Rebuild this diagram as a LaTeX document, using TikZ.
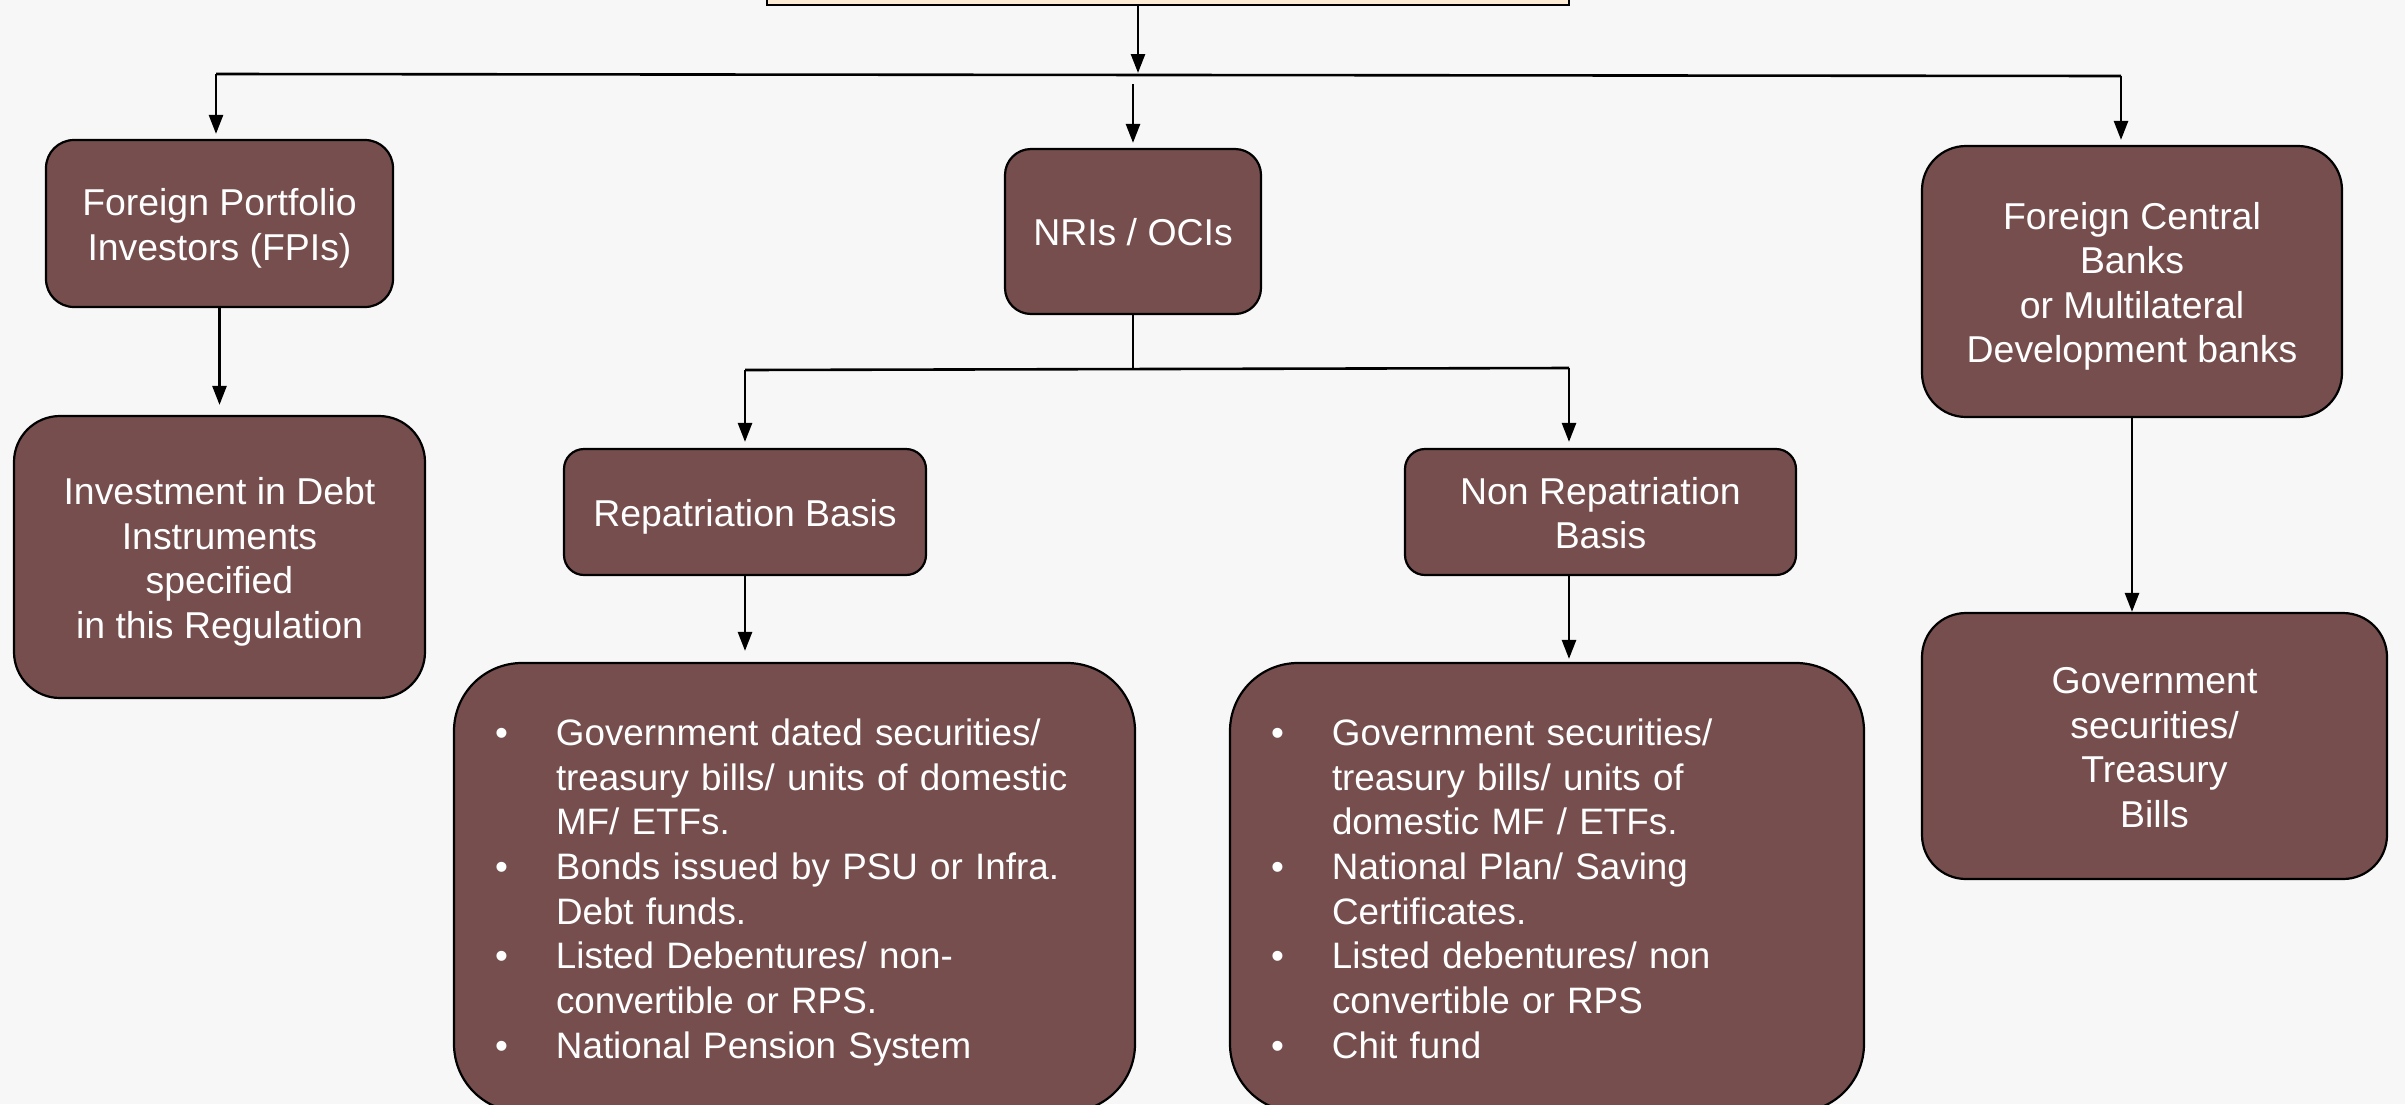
\documentclass[tikz,border=0pt]{standalone}
\usepackage{fontspec}
\setmainfont{Liberation Sans}
\usetikzlibrary{arrows.meta}
\definecolor{bgcol}{HTML}{F7F7F7}
\definecolor{boxfill}{HTML}{754E4D}
\definecolor{topfill}{HTML}{FDEBD3}
\newcommand{\mlines}[1]{\begin{tabular}{@{}c@{}}\rule{0pt}{21pt}#1\end{tabular}}
\begin{document}
\begin{tikzpicture}[x=0.5pt,y=-0.5pt,
  basebox/.style={draw=black, line width=1.1pt, fill=boxfill, text=white, inner sep=0pt},
  box/.style={basebox, align=center, font=\fontsize{18.7}{22.25}\selectfont},
  listbox/.style={basebox, rounded corners=34pt, minimum height=224.5pt, inner xsep=20.5pt, align=left,
    font=\fontsize{18.4}{22.35}\selectfont},
  conn/.style={line width=1.3pt, draw=black},
  arr/.style={conn, -{Triangle[width=7pt,length=9.5pt]}}]
\fill[bgcol] (0,0) rectangle (2405,1104);
\useasboundingbox (0,0) rectangle (2405,1104);
\clip (0,0) rectangle (2405,1104);

\node[basebox, fill=topfill, minimum width=401pt, minimum height=40pt, anchor=south] (top) at (1168,6) {};

\node[box, rounded corners=14pt, minimum width=173.5pt, minimum height=83.5pt] (fpi) at (219.5,223.5) {\mlines{Foreign Portfolio\\Investors (FPIs)}};
\node[box, rounded corners=23pt, minimum width=205.5pt, minimum height=141pt] (inv) at (219.5,557) {\mlines{Investment in Debt\\Instruments\\specified\\in this Regulation}};
\node[box, rounded corners=13pt, minimum width=128pt, minimum height=82.5pt] (nri) at (1133,231.5) {\mlines{NRIs / OCIs}};
\node[box, rounded corners=10pt, minimum width=181pt, minimum height=63pt] (rep) at (745,512) {\mlines{Repatriation Basis}};
\node[box, rounded corners=10pt, minimum width=195.5pt, minimum height=63pt] (nrep) at (1600.5,512) {\mlines{Non Repatriation\\Basis}};
\node[box, rounded corners=22pt, minimum width=210pt, minimum height=135.5pt] (fcb) at (2132,281.5) {\mlines{Foreign Central\\Banks\\or Multilateral\\Development banks}};
\node[box, rounded corners=22pt, minimum width=232.5pt, minimum height=133pt] (gov) at (2154.5,746) {\mlines{Government\\securities/\\Treasury\\Bills}};

\node[listbox, minimum width=340.5pt, text width=299.5pt] (rlist) at (794.5,887.5) {%
\begin{tabular}{@{}p{30.5pt}@{}l@{}}
\textbullet & \rule{0pt}{21.1pt}Government dated securities/\\
 & treasury bills/ units of domestic\\
 & MF/ ETFs.\\
\textbullet & Bonds issued by PSU or Infra.\\
 & Debt funds.\\
\textbullet & Listed Debentures/ non-\\
 & convertible or RPS.\\
\textbullet & National Pension System
\end{tabular}};
\node[listbox, minimum width=317pt, text width=276pt] (nlist) at (1547,887.5) {%
\begin{tabular}{@{}p{30.5pt}@{}l@{}}
\textbullet & \rule{0pt}{21.1pt}Government securities/\\
 & treasury bills/ units of\\
 & domestic MF / ETFs.\\
\textbullet & National Plan/ Saving\\
 & Certificates.\\
\textbullet & Listed debentures/ non\\
 & convertible or RPS\\
\textbullet & Chit fund
\end{tabular}};

% connectors
\coordinate (tj) at (1138,73);
\coordinate (hl) at (216,74);
\coordinate (hr) at (2121,76);
\coordinate (nm) at (1133,84);
\coordinate (bl) at (745,370);
\coordinate (br) at (1569,368);

\draw[arr] (top.south -| tj) -- (tj);
\draw[conn] (hl) -- (hr);
\draw[arr, shorten >=2.5pt] (hl) -- (hl |- fpi.north);
\draw[arr, shorten >=2.5pt] (hr) -- (hr |- fcb.north);
\draw[arr, shorten >=2.5pt] (nm) -- (nm |- nri.north);

\draw[conn] (nri.south) -- (nri.south |- bl);
\draw[conn] (bl) -- (br);
\draw[arr, shorten >=3pt] (bl) -- (rep.north);
\draw[arr, shorten >=3pt] (br) -- (br |- nrep.north);

\draw[arr, shorten >=5pt] (fpi.south) -- (inv.north);
\draw[arr, shorten >=5.5pt] (rep.south) -- (rep.south |- rlist.north);
\draw[arr, shorten >=1.5pt] (nrep.south -| br) -- (br |- nlist.north);
\draw[arr] (fcb.south) -- (fcb.south |- gov.north);
\end{tikzpicture}
\end{document}
